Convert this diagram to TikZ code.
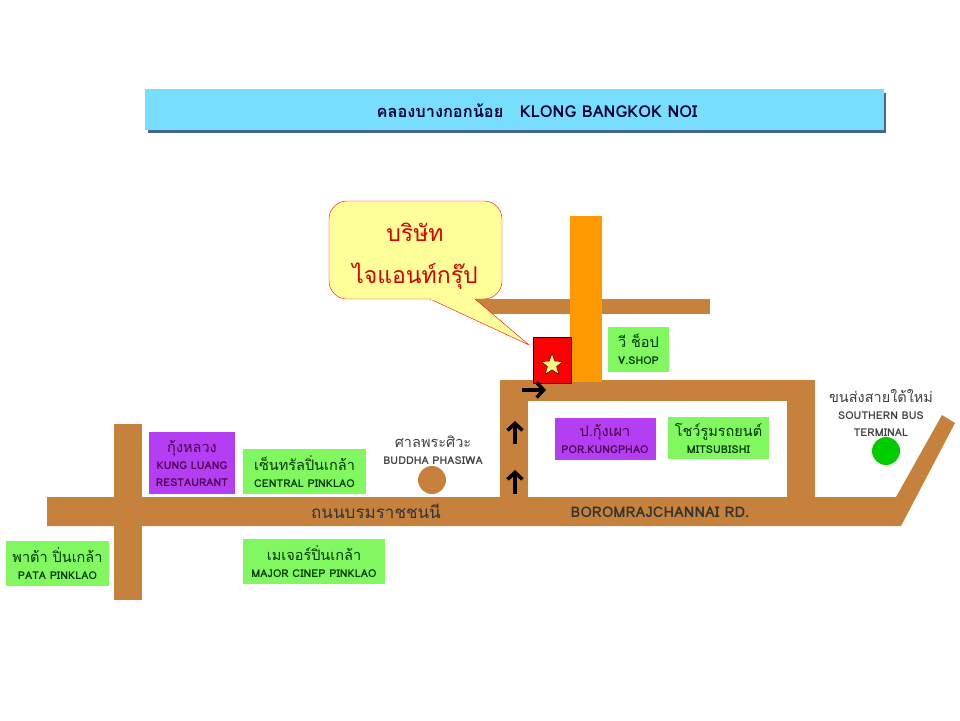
\documentclass[tikz,border=0pt]{standalone}
\usepackage{fontspec}
\setmainfont[Script=Thai]{Loma}
\usetikzlibrary{shapes.geometric, arrows.meta}
\definecolor{roadbrown}{HTML}{C6823C}
\definecolor{shopgreen}{HTML}{82F860}
\definecolor{shoppurple}{HTML}{B43EF2}
\definecolor{riverblue}{HTML}{78DEFF}
\definecolor{rivershadow}{HTML}{46648C}
\definecolor{notepaper}{HTML}{FFFF99}
\definecolor{sideroad}{HTML}{FF9900}
\newcommand{\stackfont}{\fontsize{10}{17}\selectfont\lineskiplimit=-20pt\relax}
\tikzstyle{road} = [fill=roadbrown, draw=none]
\tikzstyle{stacked} = [inner sep=0pt, align=center, font=\stackfont]
\tikzstyle{shop} = [rectangle, stacked, fill=shopgreen]
\tikzstyle{greenshop} = [shop, text=green!20!black]
\tikzstyle{purpleshop} = [shop, fill=shoppurple, text=violet!60!black]
\tikzstyle{maplabel} = [stacked, text=black!75]
\tikzstyle{arrow} = [line width=3.5pt,-{Straight Barb[length=7pt,width=15pt]},black]
\newcommand{\thaiword}[1]{{\fontsize{14.5}{17}\selectfont #1}}
\newcommand{\latinword}[1]{{\fontsize{10.8}{12}\selectfont\bfseries #1}}

\begin{document}
\begin{tikzpicture}[x=1pt, y=-1pt]
    \useasboundingbox (0,0) rectangle (960,720);
    % River
    \fill[rivershadow] (148,93) rectangle (886,133);
    \fill[riverblue] (145,89) rectangle (884,130);
    \node[inner sep=0pt, text=black!80!blue, font=\fontsize{16.4}{18}\selectfont\bfseries] (river) at (537,111) {คลองบางกอกน้อย\quad KLONG BANGKOK NOI};
    % Roads
    \fill[road] (47,497) -- (896,497) -- (942,415) -- (955,423) -- (901,526) -- (47,526) -- cycle;
    \fill[road] (114,424) rectangle (142,600);
    \fill[road] (500,380) rectangle (815,497);
    \fill[white] (528,401) rectangle (787,497);
    \fill[road] (473,299) rectangle (710,314);
    \fill[sideroad] (570,216) rectangle (602,382);
    % Callout
    \draw[red, fill=notepaper, rounded corners=18pt] (329,201) -- (502,201) -- (502,299) -- (329,299) -- cycle;
    \draw[red, fill=notepaper, line join=round] (430,299) -- (529,345) -- (475,299);
    \fill[notepaper] (431,297.5) rectangle (474,300);
    \node[inner sep=0pt, text=red!85!black, font=\fontsize{23}{28}\selectfont] (giant1) at (415,232) {บริษัท};
    \node[inner sep=0pt, text=red!85!black, font=\fontsize{23}{28}\selectfont] (giant2) at (415,276) {ไจแอนท์กรุ๊ป};
    % Company
    \node[rectangle, draw=blue!50!black, fill=red, minimum width=38pt, minimum height=46pt, inner sep=0pt] (company) at (552,360) {};
    \node[star, star points=5, star point ratio=2.4, draw=black, fill=yellow!50, minimum size=23pt, inner sep=0pt] (mark) at (552,365) {};
    % Shops
    \node[greenshop, minimum width=61pt, minimum height=45pt] (vshop) at (638.5,349.5) {\thaiword{วี ช็อป}\\\latinword{V.SHOP}};
    \node[purpleshop, minimum width=101pt, minimum height=42pt] (por) at (605,439) {\thaiword{ป.กุ้งเผา}\\\latinword{POR.KUNGPHAO}};
    \node[greenshop, minimum width=101pt, minimum height=42pt] (mitsu) at (718.5,438) {\thaiword{โชว์รูมรถยนต์}\\\latinword{MITSUBISHI}};
    \node[purpleshop, minimum width=86pt, minimum height=62pt] (kung) at (192,463) {\thaiword{กุ้งหลวง}\\\latinword{KUNG LUANG}\\\latinword{RESTAURANT}};
    \node[greenshop, minimum width=123pt, minimum height=45pt] (central) at (304.5,471.5) {\thaiword{เซ็นทรัลปิ่นเกล้า}\\\latinword{CENTRAL PINKLAO}};
    \node[greenshop, minimum width=103pt, minimum height=45pt] (pata) at (57.5,563.5) {\thaiword{พาต้า ปิ่นเกล้า}\\\latinword{PATA PINKLAO}};
    \node[greenshop, minimum width=142pt, minimum height=45pt] (major) at (314,561.5) {\thaiword{เมเจอร์ปิ่นเกล้า}\\\latinword{MAJOR CINEP PINKLAO}};
    % Landmarks
    \node[circle, fill=roadbrown, minimum size=28pt, inner sep=0pt] (buddha) at (432,480) {};
    \node[maplabel] (buddhatext) at (433,450) {\thaiword{ศาลพระศิวะ}\\\latinword{BUDDHA PHASIWA}};
    \node[circle, fill=green!80!black, minimum size=28pt, inner sep=0pt] (bus) at (886,451) {};
    \node[maplabel] (bustext) at (881,413) {\thaiword{ขนส่งสายใต้ใหม่}\\\latinword{SOUTHERN BUS}\\\latinword{TERMINAL}};
    % Road names
    \node[inner sep=0pt, text=black!80, font=\fontsize{17}{20}\selectfont] (roadthai) at (376,511) {ถนนบรมราชชนนี};
    \node[inner sep=0pt, text=black!80, font=\fontsize{14.7}{17}\selectfont\bfseries] (roadlatin) at (660,512) {BOROMRAJCHANNAI RD.};
    % Arrows
    \coordinate (a1) at (515,494);
    \coordinate (a2) at (515,470);
    \coordinate (a3) at (515,444);
    \coordinate (a4) at (515,421);
    \coordinate (a5) at (522,390);
    \coordinate (a6) at (546,390);
    \draw[arrow] (a1) -- (a2);
    \draw[arrow] (a3) -- (a4);
    \draw[arrow] (a5) -- (a6);
\end{tikzpicture}
\end{document}
